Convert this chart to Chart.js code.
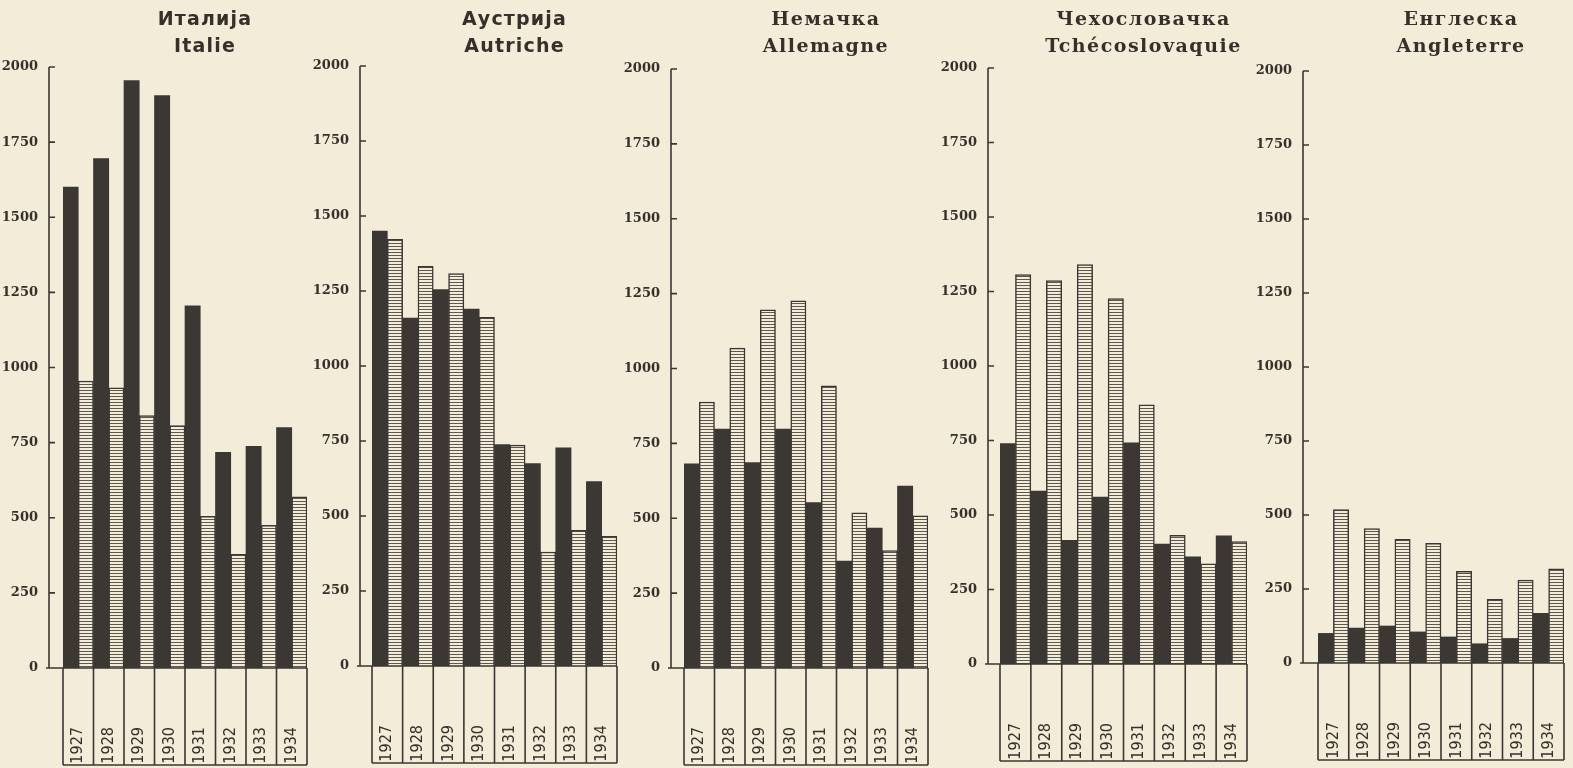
<!DOCTYPE html>
<html lang="sr">
<head>
<meta charset="utf-8">
<title>Италија, Аустрија, Немачка, Чехословачка, Енглеска 1927–1934</title>
<script src="https://cdn.jsdelivr.net/npm/chart.js@4.4.1/dist/chart.umd.min.js"></script>
<style>
    html, body { margin: 0; padding: 0; background: #f2ecd9; }
    #sheet { position: relative; width: 1573px; height: 768px; overflow: hidden; }
    #sheet canvas { position: absolute; top: 0; }
</style>
</head>
<body>
<div id="sheet"></div>
<script>
// --- Data ---
const years = ['1927', '1928', '1929', '1930', '1931', '1932', '1933', '1934'];
const yTicks = [0, 250, 500, 750, 1000, 1250, 1500, 1750, 2000];

const italyTitle = ['Италија', 'Italie'];
const italyDark = [1600, 1695, 1955, 1905, 1205, 718, 738, 800];
const italyHatched = [955, 932, 840, 807, 505, 378, 475, 570];

const austriaTitle = ['Аустрија', 'Autriche'];
const austriaDark = [1450, 1160, 1255, 1190, 738, 675, 727, 615];
const austriaHatched = [1422, 1332, 1308, 1162, 736, 380, 452, 432];

const germanyTitle = ['Немачка', 'Allemagne'];
const germanyDark = [682, 798, 686, 798, 552, 357, 467, 607];
const germanyHatched = [888, 1068, 1196, 1226, 942, 518, 392, 508];

const czechTitle = ['Чехословачка', 'Tchécoslovaquie'];
const czechDark = [740, 580, 415, 560, 742, 402, 360, 430];
const czechHatched = [1307, 1287, 1340, 1226, 870, 432, 336, 411];

const englandTitle = ['Енглеска', 'Angleterre'];
const englandDark = [100, 118, 125, 105, 88, 65, 83, 168];
const englandHatched = [518, 454, 418, 404, 310, 215, 280, 318];

// --- Configuration ---
const COLORS = {
    paper: '#f2ecd9',
    ink: '#3b3733',
    hatchLine: '#5f5851',
    text: '#36302a'
};

const PAGE_H = 768;
const AXIS_H = 100;   // height reserved under the zero line
const BOX_H = 97;     // year boxes

// page placement of each panel (plot area left/right, y of 2000 and of 0)
const PANELS = [
    { title: italyTitle,   dark: italyDark,   hatched: italyHatched,   left: 0,    areaLeft: 63,   areaRight: 307,  gap: 14, top: 67, zero: 668, serif: false },
    { title: austriaTitle, dark: austriaDark, hatched: austriaHatched, left: 295,  areaLeft: 372,  areaRight: 617,  gap: 12, top: 66, zero: 666, serif: false },
    { title: germanyTitle, dark: germanyDark, hatched: germanyHatched, left: 610,  areaLeft: 684,  areaRight: 928,  gap: 13, top: 69, zero: 668, serif: true },
    { title: czechTitle,   dark: czechDark,   hatched: czechHatched,   left: 925,  areaLeft: 1000, areaRight: 1247, gap: 12, top: 68, zero: 664, serif: true },
    { title: englandTitle, dark: englandDark, hatched: englandHatched, left: 1240, areaLeft: 1318, areaRight: 1564, gap: 15, top: 71, zero: 663, serif: true }
];

// --- Hatch fill (horizontal lines) ---
function makeHatch(ctx) {
    const tile = document.createElement('canvas');
    tile.width = 4;
    tile.height = 3;
    const g = tile.getContext('2d');
    g.fillStyle = COLORS.paper;
    g.fillRect(0, 0, 4, 3);
    g.fillStyle = COLORS.hatchLine;
    g.fillRect(0, 0, 4, 1);
    return ctx.createPattern(tile, 'repeat');
}

// --- Axis frame, year boxes and titles ---
const framePlugin = {
    id: 'frame',
    afterDatasetsDraw(chart, args, opts) {
        const { ctx, chartArea } = chart;
        const x = chart.scales.x;
        const y = chart.scales.y;
        const y0 = y.getPixelForValue(0);
        const yTop = y.getPixelForValue(y.max);
        const axisX = chartArea.left - opts.gap;

        ctx.save();
        ctx.strokeStyle = COLORS.ink;
        ctx.lineWidth = 1.6;
        ctx.beginPath();
        ctx.moveTo(axisX, yTop);
        ctx.lineTo(axisX, y0);
        y.ticks.forEach(t => {
            if (t.value === 0) return;
            const py = y.getPixelForValue(t.value);
            ctx.moveTo(axisX, py);
            ctx.lineTo(axisX + 6, py);
        });
        ctx.moveTo(axisX - 3, y0);
        ctx.lineTo(chartArea.right, y0);

        const n = x.ticks.length;
        const half = (x.getPixelForTick(1) - x.getPixelForTick(0)) / 2;
        for (let i = 0; i <= n; i++) {
            const bx = i < n ? x.getPixelForTick(i) - half : x.getPixelForTick(n - 1) + half;
            ctx.moveTo(bx, y0);
            ctx.lineTo(bx, y0 + BOX_H);
        }
        ctx.moveTo(x.getPixelForTick(0) - half, y0 + BOX_H);
        ctx.lineTo(x.getPixelForTick(n - 1) + half, y0 + BOX_H);
        ctx.stroke();
        ctx.restore();
    },
    afterDraw(chart, args, opts) {
        const { ctx, chartArea } = chart;
        const cx = (chartArea.left + chartArea.right) / 2 + 20;
        ctx.save();
        ctx.fillStyle = COLORS.text;
        ctx.textAlign = 'center';
        ctx.textBaseline = 'middle';
        ctx.font = opts.serif ? 'bold 19px "DejaVu Serif"' : 'bold 19px "DejaVu Sans"';
        ctx.letterSpacing = opts.serif ? '1.5px' : '1.2px';
        ctx.fillText(opts.title[0], cx, 20);
        ctx.fillText(opts.title[1], cx, 47);
        ctx.restore();
    }
};

// --- Panels ---
function drawPanel(p) {
    const padRight = 8;
    const width = p.areaRight - p.left + padRight;
    const canvas = document.createElement('canvas');
    canvas.width = width;
    canvas.height = PAGE_H;
    canvas.style.left = p.left + 'px';
    canvas.style.width = width + 'px';
    canvas.style.height = PAGE_H + 'px';
    document.getElementById('sheet').appendChild(canvas);

    const ctx = canvas.getContext('2d');

    new Chart(ctx, {
        type: 'bar',
        data: {
            labels: years,
            datasets: [
                { data: p.dark, backgroundColor: COLORS.ink, borderWidth: 0, categoryPercentage: 1, barPercentage: 1 },
                {
                    data: p.hatched,
                    backgroundColor: makeHatch(ctx),
                    borderColor: COLORS.ink,
                    borderWidth: { top: 1.5, left: 1.5, right: 1.5, bottom: 0 },
                    borderSkipped: false,
                    categoryPercentage: 1,
                    barPercentage: 1
                }
            ]
        },
        options: {
            responsive: false,
            animation: false,
            events: [],
            layout: { padding: { top: p.top, bottom: PAGE_H - p.zero - AXIS_H, left: 0, right: padRight } },
            plugins: {
                legend: { display: false },
                tooltip: { enabled: false },
                frame: { title: p.title, gap: p.gap, serif: p.serif }
            },
            scales: {
                x: {
                    type: 'category',
                    offset: true,
                    grid: { display: false },
                    border: { display: false },
                    ticks: {
                        autoSkip: false,
                        minRotation: 90,
                        maxRotation: 90,
                        padding: 51,
                        color: COLORS.text,
                        font: { family: '"Liberation Sans Narrow", "DejaVu Sans Condensed", "Roboto", sans-serif', size: 16 }
                    },
                    afterFit: s => {
                        s.height = AXIS_H;
                        s.paddingLeft = 0;
                        s.paddingRight = 0;
                    }
                },
                y: {
                    min: 0,
                    max: 2000,
                    grid: { display: false },
                    border: { display: false },
                    afterBuildTicks: s => { s.ticks = yTicks.map(v => ({ value: v })); },
                    ticks: {
                        padding: p.gap + 3,
                        color: COLORS.text,
                        font: { family: '"DejaVu Serif"', weight: 'bold', size: 13 },
                        callback: v => String(v)
                    },
                    afterFit: s => { s.width = p.areaLeft - p.left; }
                }
            }
        },
        plugins: [framePlugin]
    });
}

PANELS.forEach(drawPanel);
</script>
</body>
</html>
